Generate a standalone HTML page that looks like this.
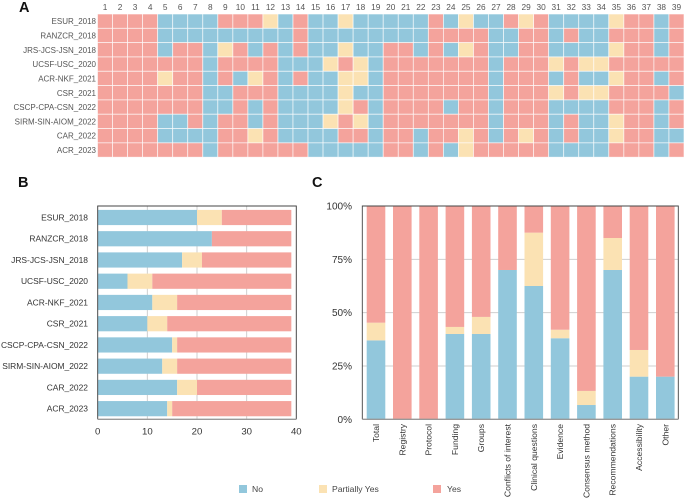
<!DOCTYPE html>
<html lang="en">
<head>
<meta charset="utf-8">
<title>Guideline assessment chart</title>
<style>
html,body{margin:0;padding:0;background:#fff;}
svg{display:block;font-family:"Liberation Sans",sans-serif;filter:blur(0.3px);}
</style>
</head>
<body>
<svg id="chart" xmlns="http://www.w3.org/2000/svg" width="685" height="499" viewBox="0 0 685 499"></svg>
<script>
// Shared categories
const guidelines = ["ESUR_2018","RANZCR_2018","JRS-JCS-JSN_2018","UCSF-USC_2020","ACR-NKF_2021","CSR_2021","CSCP-CPA-CSN_2022","SIRM-SIN-AIOM_2022","CAR_2022","ACR_2023"];
const statusNames = ["No","Partially Yes","Yes"];

// Panel A: one string per guideline, one letter per item (N=No, P=Partially Yes, Y=Yes)
const itemNumbers = ["1","2","3","4","5","6","7","8","9","10","11","12","13","14","15","16","17","18","19","20","21","22","23","24","25","26","27","28","29","30","31","32","33","34","35","36","37","38","39"];
const heatmapRows = [
  "YYYYNNNNYYYPNYNNPNNNNNYNPNNYPYNNNNPYYNY",
  "YYYYNNNNNNNNNYNNNNNNNNYYYYNNYYNYNNYYYNY",
  "YYYYNYYNPYNYNYNNPNNYYNYNPYNNYYNNNNPYYNY",
  "YYYYYYYNYYYYNNNPYPNYYYYYYYNYYYPYPPYYYYY",
  "YYYYPYYNYNPYNYNNPPNYYYYYYYNYYYNYNNPYYNY",
  "YYYYYYYNNYYYNNNNPNNYYYYYYYNYYYPYPPYYYYN",
  "YYYYYYYNNYNYNNNNPYNYYYYNYYNYYYNNNNYYYNY",
  "YYYYNNYNYYNYNNNPYPNYYYYYYYNYYYNYNNPYYNY",
  "YYYYNNNNYYPYNNNNYYNYYNYYPYNYPYNYNNPYYNN",
  "YYYYYYYNYYYYYYNNNNNYYNYNPYYYYYNNNNYYYNY"
];

// Panel B: item counts per guideline
const noCounts = [20,23,17,6,11,10,15,13,16,14];
const partialCounts = [5,0,4,5,5,4,1,3,4,1];
const yesCounts = [14,16,18,28,23,25,23,23,19,24];
const countTicks = [0,10,20,30,40];

// Panel C: percentage per domain
const domains = ["Total","Registry","Protocol","Funding","Groups","Conflicts of interest","Clinical questions","Evidence","Consensus method","Recommendations","Accessibility","Other"];
const noPercents = [37,0,0,40,40,70,62.5,38,6.7,70,20,20];
const partialPercents = [8.3,0,0,3.3,8,0,25,4,6.6,15,12.5,0];
const yesPercents = [54.7,100,100,56.7,52,30,12.5,58,86.7,15,67.5,80];
const percentTicks = [0,25,50,75,100];

const NS = "http://www.w3.org/2000/svg";
const svg = document.getElementById("chart");
const BLUE = "#92c7dc", CREAM = "#fbe2b3", RED = "#f4a39c";
const statusColor = {N: BLUE, P: CREAM, Y: RED};

function mk(tag, attrs, text, parent) {
  const el = document.createElementNS(NS, tag);
  for (const k in attrs) el.setAttribute(k, attrs[k]);
  if (text !== undefined) el.textContent = text;
  (parent || svg).appendChild(el);
  return el;
}
function group() {
  return mk("g", {});
}

/* ---------- Panel letters ---------- */
[["A",19,12],["B",18,187],["C",312,187]].forEach(function (p) {
  const t = mk("text", {x:p[1], y:p[2], "font-size":14.5, "font-weight":"bold", fill:"#111"}, p[0]);
  
  
});

/* ---------- Panel A: heatmap ---------- */
const hLeft = 97.5, hTop = 14, hCellW = (684 - 97.5) / itemNumbers.length, hCellH = 143.2 / guidelines.length;
const hx = function (i) { return hLeft + i * hCellW; };
const hy = function (r) { return hTop + r * hCellH; };

const gA = group();



itemNumbers.forEach(function (n, i) {
  const t = mk("text", {x:hx(i) + hCellW / 2, y:10, "font-size":8.3, "text-anchor":"middle", fill:"#555"}, n, gA);
  
  
});
guidelines.forEach(function (g, r) {
  const t = mk("text", {x:96, y:hy(r) + hCellH / 2 + 3, "font-size":8, "text-anchor":"end", fill:"#555"}, g, gA);
  
  
  const codes = heatmapRows[r];
  for (let i = 0; i < codes.length; i++) {
    const c = mk("rect", {x:hx(i), y:hy(r), width:hCellW, height:hCellH, fill:statusColor[codes[i]], stroke:"#fff", "stroke-opacity":0.75, "stroke-width":0.8}, undefined, gA);
    
    
  }
});

/* ---------- Panel B: stacked horizontal bars ---------- */
const bLeft = 97.7, bRight = 296.3, bTop = 206, bBottom = 419.3;
const bx = function (v) { return bLeft + v * (bRight - bLeft) / 40; };
const by = function (r) { return 217.5 + r * 21.24; };

const gB = group();



countTicks.forEach(function (v) {
  const l = mk("line", {x1:bx(v), x2:bx(v), y1:bTop, y2:bBottom, stroke:"#cfcfcf", "stroke-width":1}, undefined, gB);
  
  
  const t = mk("text", {x:bx(v), y:434.5, "font-size":9.6, "text-anchor":"middle", fill:"#333"}, String(v), gB);
  
  
});
guidelines.forEach(function (g, r) {
  const t = mk("text", {x:88, y:by(r) + 3, "font-size":8.45, "text-anchor":"end", fill:"#333"}, g, gB);
  
  
  const parts = [[noCounts[r],BLUE],[partialCounts[r],CREAM],[yesCounts[r],RED]];
  let acc = 0;
  parts.forEach(function (p) {
    const b = mk("rect", {x:bx(acc), y:by(r) - 7.6, width:bx(acc + p[0]) - bx(acc), height:15.2, fill:p[1]}, undefined, gB);
    
    
    acc += p[0];
  });
});
const bFrame = mk("path", {d:"M"+bLeft+" "+bBottom+"V"+bTop+"H"+bRight+"V"+bBottom, fill:"none", stroke:"#444", "stroke-width":0.9}, undefined, gB);


const bBase = mk("line", {x1:bLeft, x2:bRight, y1:bBottom, y2:bBottom, stroke:"#999", "stroke-width":1.3}, undefined, gB);



/* ---------- Panel C: stacked vertical bars ---------- */
const cLeft = 362.3, cRight = 678.3, cTop = 206, cBottom = 419.3;
const cy = function (v) { return cBottom - v * (cBottom - cTop) / 100; };
const cx = function (i) { return 376 + i * 26.3; };

const gC = group();



percentTicks.forEach(function (v) {
  if (v > 0 && v < 100) {
    const l = mk("line", {x1:cLeft, x2:cRight, y1:cy(v), y2:cy(v), stroke:"#cfcfcf", "stroke-width":1}, undefined, gC);
    
    
  }
  const t = mk("text", {x:352, y:cy(v) + 3.5, "font-size":10, "text-anchor":"end", fill:"#333"}, v + "%", gC);
  
  
});
domains.forEach(function (d, i) {
  const parts = [[noPercents[i],BLUE],[partialPercents[i],CREAM],[yesPercents[i],RED]];
  let acc = 0;
  parts.forEach(function (p) {
    const b = mk("rect", {x:cx(i) - 9.3, y:cy(acc + p[0]), width:18.6, height:cy(acc) - cy(acc + p[0]), fill:p[1]}, undefined, gC);
    
    
    acc += p[0];
  });
  const t = mk("text", {transform:"translate(" + (cx(i) + 3) + ",424) rotate(-90)", "font-size":8.6, "text-anchor":"end", fill:"#333"}, d, gC);
  
  
});
const cFrame = mk("path", {d:"M"+cLeft+" "+cBottom+"V"+cTop+"H"+cRight+"V"+cBottom, fill:"none", stroke:"#444", "stroke-width":0.9}, undefined, gC);


const cBase = mk("line", {x1:cLeft, x2:cRight, y1:cBottom, y2:cBottom, stroke:"#999", "stroke-width":1.3}, undefined, gC);



/* ---------- Legend ---------- */
const gL = group();


const legendLayout = [[239,252,BLUE],[319,332,CREAM],[433,447,RED]];
statusNames.forEach(function (name, i) {
  const s = mk("rect", {x:legendLayout[i][0], y:485, width:8, height:8, fill:legendLayout[i][2]}, undefined, gL);
  
  
  const t = mk("text", {x:legendLayout[i][1], y:492, "font-size":8.6, fill:"#444"}, name, gL);
  
  
});
</script>
</body>
</html>
